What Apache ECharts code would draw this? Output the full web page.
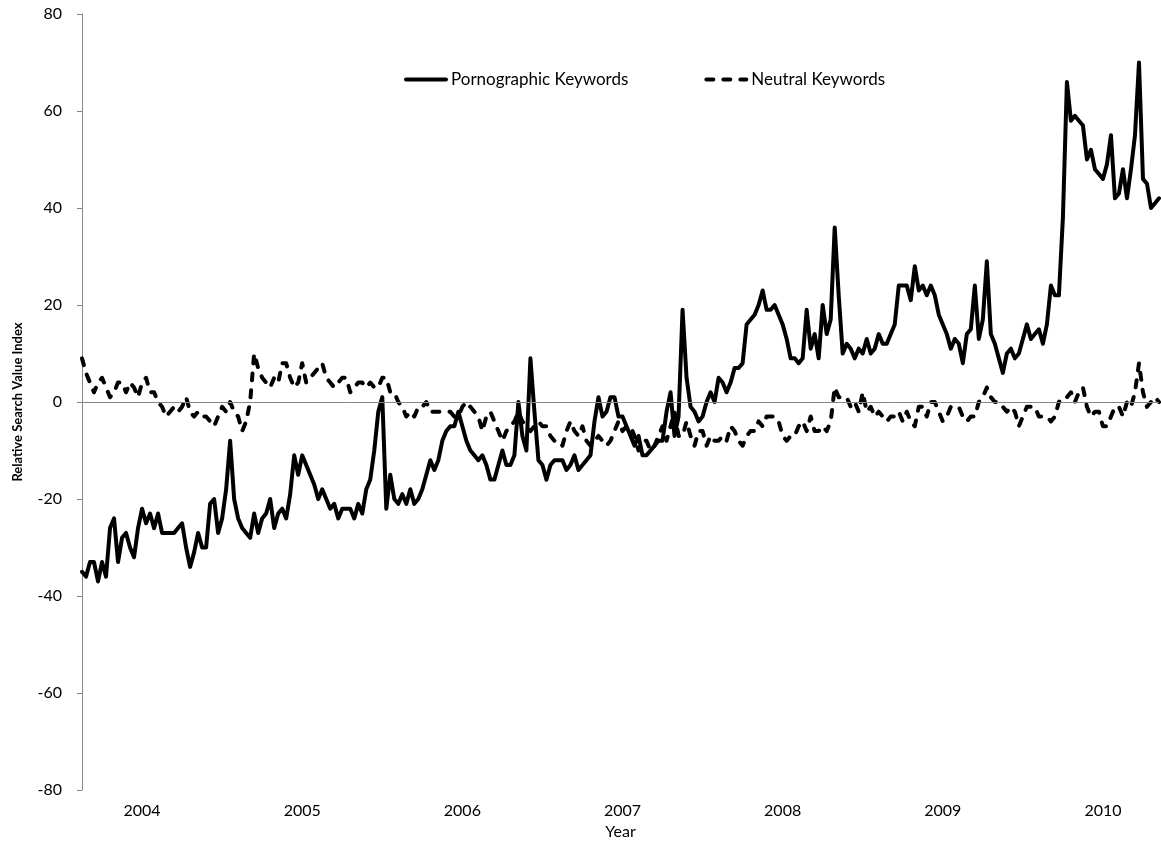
<!DOCTYPE html>
<html>
<head>
<meta charset="utf-8">
<title>Relative Search Value Index</title>
<script src="https://cdn.jsdelivr.net/npm/echarts@6/dist/echarts.min.js"></script>
<style>
  html, body { margin: 0; padding: 0; background: #fff; }
  #chart { width: 1161px; height: 842px; }
</style>
</head>
<body>
<div id="chart"></div>
<script>
// one value per ~4px step along the x axis
var porn = [
  -35,-36,-33,-33,-37,-33,-36,-26,-24,-33,
  -28,-27,-30,-32,-26,-22,-25,-23,-26,-23,
  -27,-27,-27,-27,-26,-25,-30,-34,-31,-27,
  -30,-30,-21,-20,-27,-24,-18,-8,-20,-24,
  -26,-27,-28,-23,-27,-24,-23,-20,-26,-23,
  -22,-24,-19,-11,-15,-11,-13,-15,-17,-20,
  -18,-20,-22,-21,-24,-22,-22,-22,
  -24,-21,-23,-18,-16,-10,-2,1,-22,-15,
  -20,-21,-19,-21,-18,-21,-20,-18,-15,-12,
  -14,-12,-8,-6,-5,-5,-2,-5,-8,-10,
  -11,-12,-11,-13,-16,-16,-13,-10,-13,-13,
  -11,0,-7,-10,9,-2,-12,-13,-16,-13,
  -12,-12,-12,-14,-13,-11,-14,-13,-12,-11,
  -4,1,-3,-2,1,1,-3,-3,
  -5,-7,-9,-7,-11,-11,-10,-9,-8,-8,
  -2,2,-7,-3,19,5,-1,-2,-4,-3,
  0,2,0,5,4,2,4,7,7,8,
  16,17,18,20,23,19,19,20,18,16,
  13,9,9,8,9,19,11,14,9,20,
  14,17,36,22,10,12,11,9,11,10,
  13,10,11,14,12,12,14,
  16,24,24,24,21,28,23,24,22,24,
  22,18,16,14,11,13,12,8,14,15,
  24,13,17,29,14,12,9,6,10,11,
  9,10,13,16,13,14,15,12,16,24,
  22,22,38,66,58,59,58,57,50,52,
  48,47,46,49,55,42,43,48,42,48,
  55,70,46,45,40,41,42
];

var neutral = [
  9,6,4,2,4,5,3,1,2,4,
  4,2,4,3,1,4,5,2,2,0,
  -1,-3,-2,-1,-2,-1,1,-2,-3,-2,
  -3,-3,-4,-5,-3,-1,-2,0,-2,-3,
  -6,-4,0,10,7,5,4,3,5,4,
  8,8,5,3,4,8,4,5,6,7,
  8,5,4,3,4,5,5,2,
  3,4,4,3,4,3,3,5,5,2,
  2,0,-1,-3,-2,-3,-1,-1,0,-2,
  -2,-2,-2,-2,-2,-3,-3,-1,0,-1,
  -2,-3,-6,-3,-2,-4,-6,-8,-6,-5,
  -4,-2,-4,-5,-6,-5,-4,-5,-5,-7,
  -8,-8,-9,-6,-4,-6,-7,-5,-8,-9,
  -8,-7,-8,-9,-8,-6,-4,-6,
  -5,-5,-7,-10,-8,-8,-10,-9,-7,-5,
  -8,-5,-2,-7,-7,-4,-7,-9,-6,-6,
  -9,-7,-8,-8,-7,-8,-5,-6,-8,-9,
  -7,-6,-6,-4,-5,-3,-3,-3,-4,-7,
  -8,-7,-7,-5,-4,-6,-3,-6,-6,-5,
  -6,-4,3,1,1,1,-1,0,-2,2,
  -2,-1,-3,-2,-3,-4,-3,
  -3,-2,-4,-2,-4,-5,-1,-1,-3,0,
  0,-2,-4,-3,-1,-1,-1,-3,-4,-3,
  -3,0,1,3,1,0,0,-1,-2,-1,
  -2,-5,-3,-1,-1,-1,-3,-3,-3,-4,
  -3,0,1,1,2,0,2,3,-1,-3,
  -2,-2,-5,-5,-3,-1,-1,-3,0,-1,
  2,8,2,-1,0,1,0
];

var years = ['2004', '2005', '2006', '2007', '2008', '2009', '2010'];
var yearIndex = [15, 55, 95, 135, 175, 215, 255]; // point where each year label sits

var categories = porn.map(function (v, i) {
  var k = yearIndex.indexOf(i);
  return k >= 0 ? years[k] : '';
});

var font = 'Lato, "Open Sans", sans-serif';

var chart = echarts.init(document.getElementById('chart'));
var option = {
  animation: false,
  textStyle: { fontFamily: font, color: '#000' },
  legend: {
    data: ['Pornographic Keywords', 'Neutral Keywords'],
    left: 399,
    top: 66,
    itemWidth: 40,
    itemHeight: 14,
    itemGap: 76,
    itemStyle: { opacity: 0 },
    lineStyle: { width: 4 },
    textStyle: { fontSize: 17, color: '#000', fontFamily: font }
  },
  grid: { left: 82, right: 2, top: 14, bottom: 52, outerBoundsMode: 'none' },
  xAxis: {
    type: 'category',
    data: categories,
    boundaryGap: false,
    name: 'Year',
    nameLocation: 'middle',
    nameGap: 34,
    nameTextStyle: { fontSize: 16, color: '#000' },
    axisLine: { show: false, onZero: false },
    axisTick: { show: false },
    axisLabel: {
      interval: function (i, v) { return v !== ''; },
      fontSize: 16,
      color: '#000',
      margin: 13
    },
    splitLine: { show: false }
  },
  yAxis: {
    type: 'value',
    min: -80,
    max: 80,
    interval: 20,
    name: 'Relative Search Value Index',
    nameLocation: 'middle',
    nameGap: 58,
    nameTextStyle: { fontSize: 13, fontWeight: 'bold', color: '#000' },
    axisLine: { show: true, lineStyle: { color: '#868686', width: 1 } },
    axisTick: { show: true, length: 5, lineStyle: { color: '#868686' } },
    axisLabel: { fontSize: 16, color: '#000', margin: 20 },
    splitLine: { show: false }
  },
  series: [
    {
      name: 'zero',
      type: 'line',
      data: [],
      z: 1,
      silent: true,
      markLine: {
        silent: true,
        symbol: ['none', 'none'],
        label: { show: false },
        lineStyle: { color: '#868686', width: 1, type: 'solid' },
        data: [{ yAxis: 0 }]
      }
    },
    {
      name: 'Pornographic Keywords',
      type: 'line',
      data: porn,
      symbol: 'none',
      z: 3,
      lineStyle: { color: '#000', width: 4, join: 'round', cap: 'round' },
      itemStyle: { color: '#000' }
    },
    {
      name: 'Neutral Keywords',
      type: 'line',
      data: neutral,
      symbol: 'none',
      z: 3,
      lineStyle: { color: '#000', width: 4, type: [7, 10], join: 'round', cap: 'round' },
      itemStyle: { color: '#000' }
    }
  ]
};
chart.setOption(option);
</script>
</body>
</html>
